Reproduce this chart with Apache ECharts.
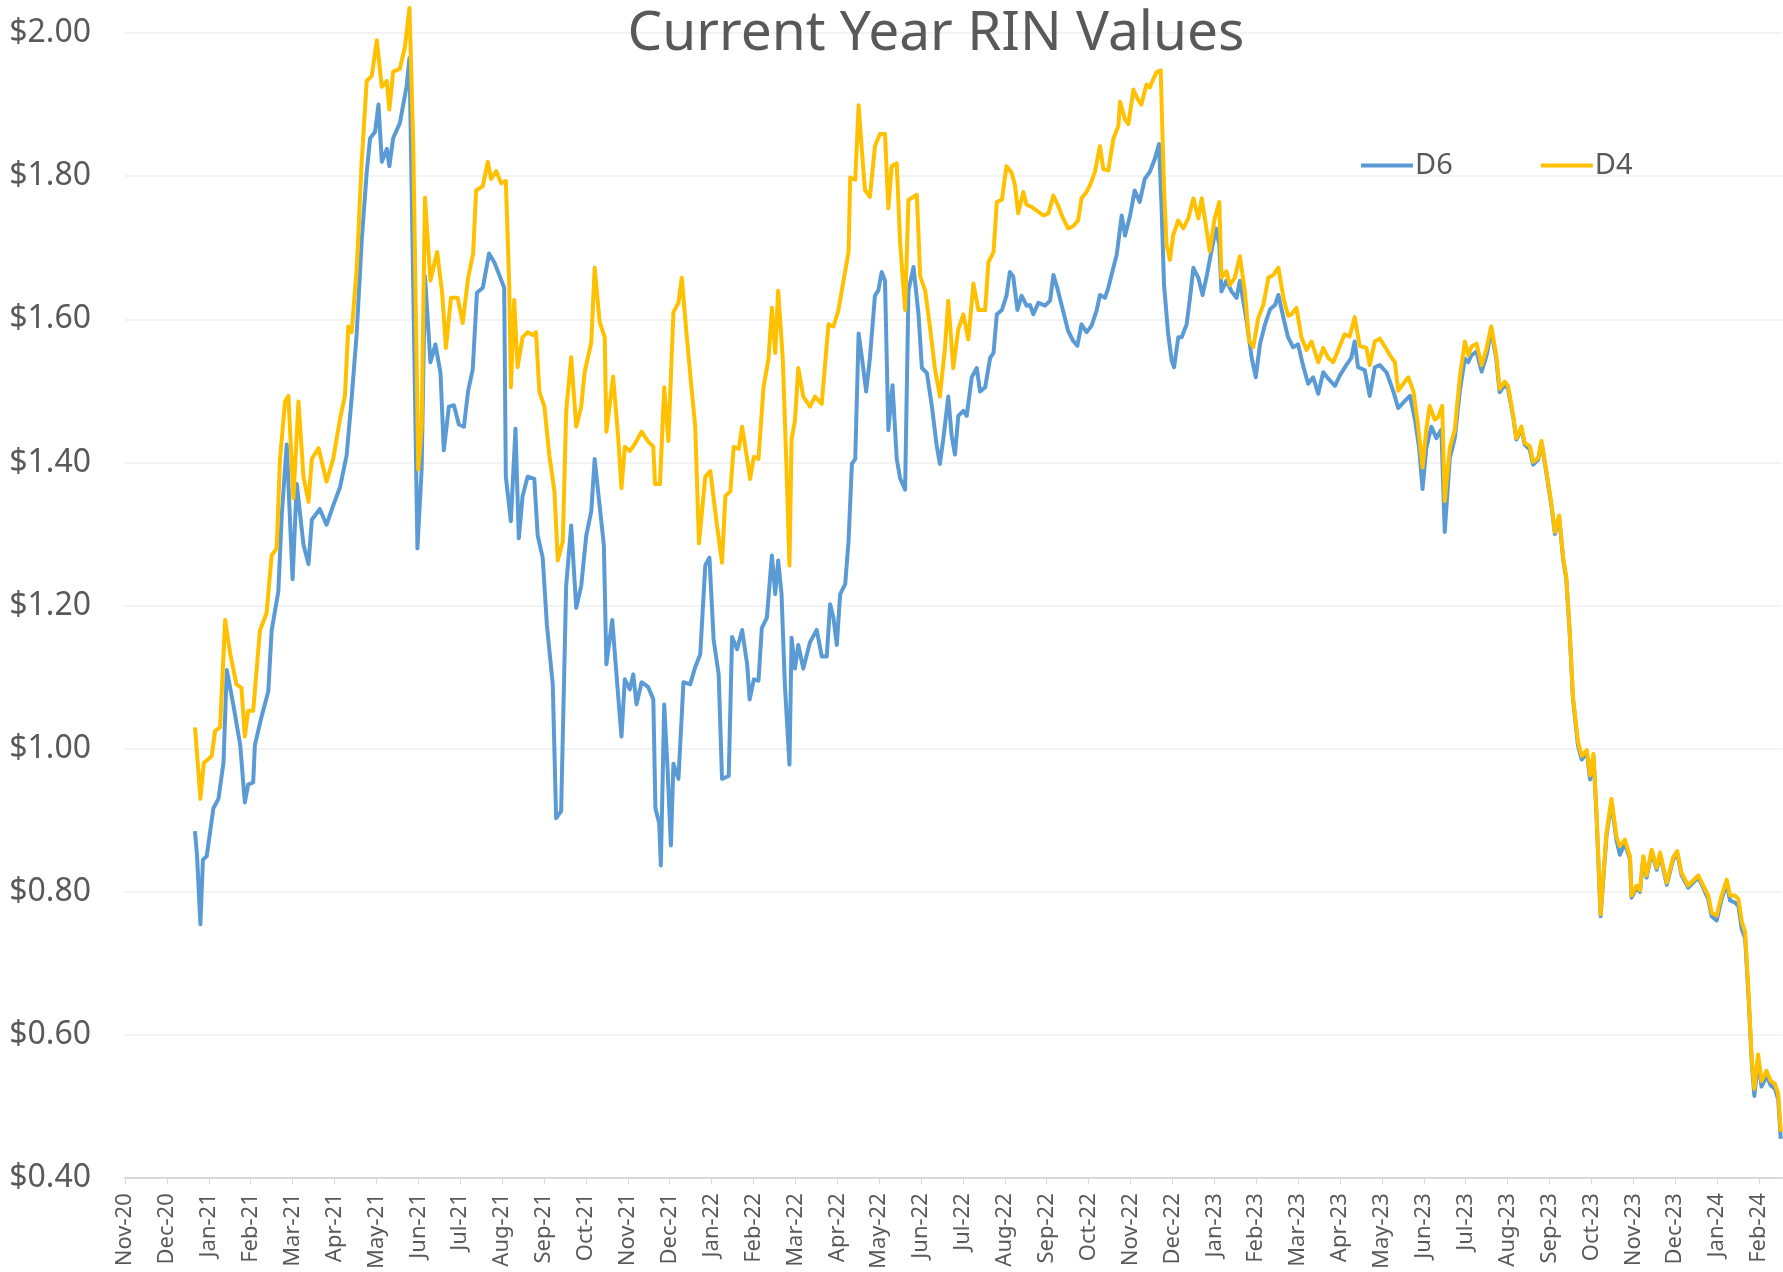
<!DOCTYPE html>
<html>
<head>
<meta charset="utf-8">
<title>Current Year RIN Values</title>
<script src="https://cdn.jsdelivr.net/npm/echarts@6/dist/echarts.min.js"></script>
<style>
  html, body { margin: 0; padding: 0; background: #ffffff; }
  #chart { width: 1783px; height: 1272px; }
</style>
</head>
<body>
<div id="chart"></div>
<script>
// one tick label per month, first one is Nov-20
var monthLabels = [
  'Nov-20', 'Dec-20',
  'Jan-21', 'Feb-21', 'Mar-21', 'Apr-21', 'May-21', 'Jun-21', 'Jul-21', 'Aug-21', 'Sep-21', 'Oct-21', 'Nov-21', 'Dec-21',
  'Jan-22', 'Feb-22', 'Mar-22', 'Apr-22', 'May-22', 'Jun-22', 'Jul-22', 'Aug-22', 'Sep-22', 'Oct-22', 'Nov-22', 'Dec-22',
  'Jan-23', 'Feb-23', 'Mar-23', 'Apr-23', 'May-23', 'Jun-23', 'Jul-23', 'Aug-23', 'Sep-23', 'Oct-23', 'Nov-23', 'Dec-23',
  'Jan-24', 'Feb-24'
];

// time is in months counted from 1 Nov 2020
var d6Time = [
  1.67, 1.72, 1.80, 1.86, 1.95, 2.11, 2.23, 2.35, 2.43, 2.59, 2.75, 2.86, 2.94, 3.06, 3.10, 3.26, 3.42, 3.50, 3.66, 3.74,
  3.86, 4.00, 4.10, 4.26, 4.38, 4.46, 4.65, 4.81, 4.97, 5.13, 5.29, 5.41, 5.53, 5.65, 5.77, 5.85, 5.97, 6.05, 6.13, 6.25,
  6.31, 6.40, 6.56, 6.72, 6.79, 6.88, 6.98, 7.08, 7.16, 7.29, 7.41, 7.53, 7.61, 7.73, 7.85, 7.97, 8.09, 8.19, 8.30, 8.40,
  8.54, 8.69, 8.82, 8.94, 9.05, 9.09, 9.21, 9.32, 9.40, 9.49, 9.61, 9.77, 9.85, 9.97, 10.07, 10.21, 10.29, 10.41, 10.53, 10.65,
  10.77, 10.89, 11.01, 11.13, 11.21, 11.33, 11.43, 11.49, 11.63, 11.73, 11.85, 11.93, 12.05, 12.13, 12.21, 12.33, 12.49, 12.61, 12.66, 12.75,
  12.79, 12.87, 12.95, 13.03, 13.09, 13.21, 13.33, 13.49, 13.61, 13.73, 13.85, 13.95, 14.05, 14.17, 14.25, 14.41, 14.49, 14.61, 14.73, 14.85,
  14.91, 15.01, 15.12, 15.20, 15.32, 15.44, 15.52, 15.59, 15.67, 15.75, 15.86, 15.91, 15.99, 16.07, 16.19, 16.35, 16.51, 16.63, 16.75, 16.83,
  16.91, 16.99, 17.07, 17.19, 17.27, 17.35, 17.43, 17.51, 17.59, 17.69, 17.78, 17.90, 17.98, 18.06, 18.14, 18.22, 18.32, 18.42, 18.50, 18.62,
  18.70, 18.82, 18.94, 19.02, 19.14, 19.26, 19.37, 19.45, 19.53, 19.65, 19.73, 19.81, 19.89, 20.01, 20.09, 20.21, 20.33, 20.41, 20.53, 20.65,
  20.73, 20.81, 20.93, 21.04, 21.12, 21.20, 21.30, 21.40, 21.52, 21.60, 21.68, 21.80, 21.96, 22.08, 22.16, 22.27, 22.39, 22.51, 22.63, 22.73,
  22.83, 22.95, 23.07, 23.19, 23.27, 23.39, 23.47, 23.59, 23.67, 23.79, 23.87, 23.99, 24.10, 24.22, 24.34, 24.46, 24.58, 24.68, 24.74, 24.80,
  24.90, 24.98, 25.04, 25.14, 25.22, 25.34, 25.42, 25.50, 25.62, 25.72, 25.81, 25.93, 26.04, 26.12, 26.17, 26.29, 26.41, 26.53, 26.61, 26.77,
  26.89, 26.99, 27.09, 27.21, 27.33, 27.45, 27.53, 27.65, 27.76, 27.88, 28.00, 28.12, 28.24, 28.36, 28.48, 28.60, 28.72, 28.88, 29.00, 29.15,
  29.27, 29.35, 29.43, 29.59, 29.71, 29.83, 29.95, 30.11, 30.27, 30.39, 30.55, 30.67, 30.79, 30.89, 30.97, 31.06, 31.18, 31.30, 31.42, 31.50,
  31.62, 31.74, 31.86, 31.98, 32.06, 32.14, 32.26, 32.38, 32.50, 32.61, 32.73, 32.81, 32.93, 33.01, 33.13, 33.21, 33.33, 33.41, 33.53, 33.61,
  33.73, 33.81, 33.93, 34.05, 34.13, 34.23, 34.33, 34.40, 34.48, 34.56, 34.68, 34.77, 34.89, 34.97, 35.05, 35.12, 35.22, 35.36, 35.48, 35.60,
  35.68, 35.80, 35.92, 35.96, 36.08, 36.16, 36.24, 36.32, 36.44, 36.56, 36.64, 36.80, 36.95, 37.05, 37.15, 37.31, 37.43, 37.55, 37.67, 37.79,
  37.87, 37.99, 38.11, 38.23, 38.31, 38.43, 38.51, 38.59, 38.67, 38.75, 38.83, 38.89, 38.98, 39.06, 39.18, 39.28, 39.38, 39.46, 39.52
];
var d6Value = [
  0.885, 0.85, 0.755, 0.845, 0.85, 0.917, 0.93, 0.98, 1.11, 1.06, 1.005, 0.925, 0.95, 0.953, 1.005, 1.045, 1.08, 1.165, 1.22, 1.325,
  1.425, 1.237, 1.37, 1.285, 1.258, 1.32, 1.335, 1.313, 1.34, 1.365, 1.41, 1.49, 1.58, 1.71, 1.806, 1.853, 1.862, 1.90, 1.82, 1.838,
  1.814, 1.853, 1.874, 1.925, 1.965, 1.645, 1.28, 1.39, 1.66, 1.54, 1.565, 1.525, 1.417, 1.478, 1.48, 1.453, 1.45, 1.50, 1.53, 1.637,
  1.644, 1.692, 1.679, 1.661, 1.644, 1.38, 1.318, 1.447, 1.294, 1.353, 1.38, 1.377, 1.298, 1.267, 1.173, 1.09, 0.903, 0.913, 1.228, 1.312,
  1.197, 1.228, 1.298, 1.332, 1.405, 1.339, 1.284, 1.118, 1.18, 1.104, 1.017, 1.097, 1.083, 1.104, 1.062, 1.093, 1.086, 1.069, 0.917, 0.896,
  0.837, 1.062, 0.972, 0.865, 0.979, 0.958, 1.093, 1.09, 1.114, 1.132, 1.256, 1.267, 1.152, 1.104, 0.958, 0.962, 1.156, 1.139, 1.166, 1.118,
  1.069, 1.097, 1.095, 1.169, 1.183, 1.27, 1.216, 1.263, 1.216, 1.089, 0.978, 1.155, 1.112, 1.145, 1.112, 1.149, 1.166, 1.129, 1.129, 1.202,
  1.183, 1.145, 1.216, 1.23, 1.29, 1.398, 1.405, 1.58, 1.546, 1.499, 1.546, 1.633, 1.64, 1.666, 1.654, 1.445, 1.508, 1.405, 1.378, 1.362,
  1.64, 1.673, 1.607, 1.532, 1.525, 1.478, 1.425, 1.398, 1.432, 1.492, 1.438, 1.411, 1.465, 1.472, 1.465, 1.519, 1.532, 1.499, 1.505, 1.546,
  1.553, 1.607, 1.613, 1.633, 1.666, 1.66, 1.613, 1.633, 1.619, 1.62, 1.607, 1.623, 1.619, 1.626, 1.662, 1.64, 1.612, 1.584, 1.57, 1.563,
  1.593, 1.582, 1.591, 1.612, 1.634, 1.63, 1.644, 1.672, 1.69, 1.745, 1.717, 1.745, 1.78, 1.764, 1.796, 1.806, 1.824, 1.845, 1.759, 1.648,
  1.579, 1.543, 1.533, 1.575, 1.575, 1.593, 1.63, 1.672, 1.658, 1.634, 1.658, 1.695, 1.727, 1.704, 1.639, 1.654, 1.639, 1.63, 1.654, 1.598,
  1.547, 1.519, 1.565, 1.593, 1.614, 1.62, 1.634, 1.602, 1.575, 1.561, 1.565, 1.535, 1.51, 1.519, 1.496, 1.526, 1.517, 1.507, 1.522, 1.536,
  1.546, 1.569, 1.533, 1.529, 1.493, 1.533, 1.536, 1.526, 1.50, 1.476, 1.486, 1.493, 1.46, 1.42, 1.363, 1.42, 1.45, 1.434, 1.446, 1.303,
  1.406, 1.434, 1.50, 1.545, 1.54, 1.55, 1.555, 1.527, 1.55, 1.585, 1.545, 1.498, 1.508, 1.503, 1.465, 1.432, 1.447, 1.425, 1.418, 1.397,
  1.404, 1.428, 1.384, 1.338, 1.30, 1.324, 1.263, 1.238, 1.165, 1.07, 1.005, 0.985, 0.995, 0.957, 0.99, 0.91, 0.766, 0.878, 0.925, 0.872,
  0.852, 0.868, 0.846, 0.792, 0.806, 0.80, 0.847, 0.82, 0.856, 0.831, 0.852, 0.81, 0.845, 0.854, 0.824, 0.806, 0.813, 0.82, 0.806, 0.79,
  0.766, 0.76, 0.79, 0.812, 0.788, 0.785, 0.78, 0.748, 0.735, 0.655, 0.56, 0.515, 0.565, 0.528, 0.543, 0.53, 0.525, 0.51, 0.455
];

var d4Time = [
  1.67, 1.75, 1.80, 1.88, 2.07, 2.15, 2.27, 2.39, 2.51, 2.66, 2.78, 2.86, 2.94, 3.06, 3.22, 3.38, 3.50, 3.62, 3.70, 3.82,
  3.90, 4.02, 4.14, 4.26, 4.38, 4.46, 4.62, 4.81, 4.97, 5.13, 5.25, 5.33, 5.41, 5.53, 5.65, 5.77, 5.89, 6.01, 6.13, 6.25,
  6.31, 6.40, 6.56, 6.68, 6.79, 6.88, 7.00, 7.08, 7.16, 7.29, 7.45, 7.57, 7.66, 7.78, 7.94, 8.06, 8.19, 8.31, 8.38, 8.54,
  8.66, 8.74, 8.86, 8.98, 9.09, 9.17, 9.21, 9.29, 9.37, 9.49, 9.61, 9.73, 9.81, 9.89, 10.01, 10.13, 10.25, 10.33, 10.45, 10.53,
  10.65, 10.77, 10.89, 10.97, 11.13, 11.21, 11.33, 11.45, 11.49, 11.65, 11.77, 11.85, 11.93, 12.05, 12.17, 12.33, 12.49, 12.61, 12.65, 12.77,
  12.87, 12.97, 13.09, 13.21, 13.29, 13.41, 13.53, 13.61, 13.70, 13.85, 13.97, 14.13, 14.25, 14.33, 14.45, 14.53, 14.65, 14.73, 14.85, 14.92,
  15.01, 15.12, 15.24, 15.36, 15.44, 15.52, 15.59, 15.70, 15.79, 15.86, 15.91, 15.99, 16.07, 16.19, 16.35, 16.47, 16.63, 16.79, 16.91, 17.03,
  17.15, 17.27, 17.31, 17.43, 17.51, 17.59, 17.66, 17.78, 17.90, 18.02, 18.14, 18.22, 18.30, 18.42, 18.50, 18.62, 18.70, 18.82, 18.90, 18.98,
  19.10, 19.22, 19.33, 19.45, 19.57, 19.65, 19.77, 19.89, 20.01, 20.13, 20.25, 20.37, 20.53, 20.61, 20.73, 20.81, 20.93, 21.04, 21.16, 21.24,
  21.32, 21.44, 21.52, 21.64, 21.76, 21.92, 22.04, 22.16, 22.27, 22.39, 22.51, 22.63, 22.75, 22.83, 22.95, 23.03, 23.15, 23.27, 23.35, 23.47,
  23.59, 23.71, 23.75, 23.87, 23.95, 24.07, 24.18, 24.26, 24.38, 24.46, 24.54, 24.62, 24.72, 24.80, 24.86, 24.94, 25.02, 25.14, 25.26, 25.38,
  25.50, 25.62, 25.70, 25.80, 25.89, 26.01, 26.12, 26.17, 26.29, 26.37, 26.49, 26.61, 26.73, 26.83, 26.93, 27.05, 27.17, 27.29, 27.41, 27.53,
  27.65, 27.76, 27.84, 27.96, 28.08, 28.20, 28.32, 28.48, 28.60, 28.72, 28.84, 28.95, 29.11, 29.23, 29.35, 29.47, 29.63, 29.71, 29.83, 29.95,
  30.07, 30.19, 30.31, 30.39, 30.51, 30.63, 30.75, 30.86, 30.97, 31.06, 31.14, 31.26, 31.34, 31.44, 31.50, 31.62, 31.74, 31.86, 31.98, 32.06,
  32.14, 32.26, 32.38, 32.50, 32.61, 32.73, 32.81, 32.93, 33.01, 33.13, 33.21, 33.33, 33.41, 33.53, 33.61, 33.73, 33.81, 33.93, 34.05, 34.13,
  34.23, 34.33, 34.40, 34.48, 34.56, 34.68, 34.77, 34.89, 34.97, 35.05, 35.12, 35.22, 35.36, 35.48, 35.60, 35.68, 35.80, 35.92, 35.96, 36.08,
  36.16, 36.24, 36.32, 36.44, 36.56, 36.64, 36.80, 36.95, 37.05, 37.15, 37.31, 37.43, 37.55, 37.67, 37.79, 37.87, 37.99, 38.11, 38.23, 38.31,
  38.43, 38.51, 38.59, 38.67, 38.75, 38.83, 38.89, 38.98, 39.06, 39.18, 39.28, 39.38, 39.46, 39.52
];
var d4Value = [
  1.03, 0.97, 0.93, 0.98, 0.99, 1.025, 1.03, 1.18, 1.133, 1.09, 1.085, 1.017, 1.053, 1.053, 1.165, 1.19, 1.27, 1.28, 1.405, 1.485,
  1.493, 1.35, 1.485, 1.38, 1.345, 1.405, 1.42, 1.373, 1.405, 1.46, 1.493, 1.59, 1.582, 1.67, 1.82, 1.933, 1.94, 1.99, 1.925, 1.933,
  1.893, 1.946, 1.95, 1.98, 2.035, 1.845, 1.39, 1.45, 1.77, 1.654, 1.694, 1.637, 1.56, 1.63, 1.63, 1.595, 1.658, 1.692, 1.78, 1.786,
  1.82, 1.796, 1.807, 1.79, 1.793, 1.65, 1.505, 1.627, 1.533, 1.575, 1.582, 1.578, 1.582, 1.499, 1.478, 1.409, 1.36, 1.263, 1.29, 1.471,
  1.547, 1.45, 1.478, 1.526, 1.568, 1.672, 1.596, 1.575, 1.443, 1.52, 1.436, 1.364, 1.422, 1.416, 1.426, 1.443, 1.429, 1.422, 1.37, 1.37,
  1.505, 1.43, 1.61, 1.623, 1.658, 1.575, 1.499, 1.45, 1.287, 1.38, 1.388, 1.312, 1.26, 1.353, 1.36, 1.422, 1.419, 1.45, 1.405, 1.377,
  1.408, 1.405, 1.505, 1.545, 1.616, 1.553, 1.64, 1.545, 1.39, 1.256, 1.432, 1.458, 1.532, 1.492, 1.478, 1.492, 1.482, 1.593, 1.59, 1.613,
  1.654, 1.694, 1.798, 1.795, 1.899, 1.835, 1.781, 1.771, 1.842, 1.859, 1.859, 1.755, 1.814, 1.818, 1.708, 1.613, 1.767, 1.771, 1.774, 1.66,
  1.64, 1.586, 1.532, 1.492, 1.559, 1.626, 1.532, 1.586, 1.607, 1.572, 1.65, 1.613, 1.613, 1.68, 1.694, 1.764, 1.767, 1.814, 1.805, 1.788,
  1.748, 1.778, 1.76, 1.757, 1.752, 1.745, 1.748, 1.773, 1.759, 1.741, 1.727, 1.73, 1.738, 1.769, 1.778, 1.787, 1.806, 1.842, 1.81, 1.808,
  1.852, 1.87, 1.904, 1.879, 1.873, 1.921, 1.907, 1.90, 1.928, 1.924, 1.935, 1.945, 1.948, 1.783, 1.704, 1.683, 1.718, 1.738, 1.727, 1.741,
  1.769, 1.741, 1.769, 1.731, 1.695, 1.741, 1.764, 1.658, 1.667, 1.648, 1.658, 1.688, 1.639, 1.57, 1.561, 1.602, 1.62, 1.658, 1.662, 1.672,
  1.63, 1.605, 1.607, 1.616, 1.575, 1.557, 1.569, 1.54, 1.56, 1.546, 1.54, 1.556, 1.579, 1.576, 1.603, 1.563, 1.56, 1.536, 1.569, 1.573,
  1.562, 1.55, 1.54, 1.50, 1.51, 1.519, 1.50, 1.453, 1.393, 1.446, 1.479, 1.46, 1.463, 1.479, 1.346, 1.42, 1.446, 1.519, 1.569, 1.55,
  1.562, 1.566, 1.536, 1.56, 1.59, 1.55, 1.503, 1.513, 1.507, 1.467, 1.434, 1.45, 1.427, 1.423, 1.401, 1.406, 1.43, 1.386, 1.34, 1.303,
  1.326, 1.265, 1.24, 1.167, 1.073, 1.01, 0.99, 0.998, 0.963, 0.993, 0.914, 0.769, 0.882, 0.93, 0.877, 0.864, 0.873, 0.85, 0.795, 0.809,
  0.802, 0.85, 0.823, 0.859, 0.834, 0.855, 0.813, 0.848, 0.857, 0.827, 0.809, 0.816, 0.823, 0.809, 0.795, 0.771, 0.767, 0.795, 0.817, 0.795,
  0.795, 0.79, 0.758, 0.744, 0.66, 0.564, 0.525, 0.573, 0.536, 0.55, 0.536, 0.532, 0.518, 0.465
];

function pairUp(xs, ys) {
  var out = [];
  for (var i = 0; i < xs.length; i++) {
    out.push([xs[i], ys[i]]);
  }
  return out;
}

var myChart = echarts.init(document.getElementById('chart'));

var textColor = '#595959';
var fontName = '"Noto Sans", "Open Sans", sans-serif';

var option = {
  backgroundColor: '#ffffff',
  animation: false,
  title: {
    text: 'Current Year RIN Values',
    left: 931,
    top: 2,
    textAlign: 'center',
    textStyle: {
      color: textColor,
      fontFamily: fontName,
      fontSize: 55,
      fontWeight: 'normal'
    }
  },
  legend: {
    data: ['D6', 'D4'],
    left: 1356,
    top: 146,
    icon: 'rect',
    itemWidth: 52,
    itemHeight: 4,
    itemGap: 88,
    textStyle: {
      color: textColor,
      fontFamily: fontName,
      fontSize: 29,
      padding: [0, 0, 0, -3]
    }
  },
  grid: {
    left: 125,
    right: 1,
    top: 33,
    bottom: 84,
    containLabel: false
  },
  xAxis: {
    type: 'value',
    min: 0,
    max: 39.55,
    interval: 1,
    axisLine: { onZero: false, lineStyle: { color: '#d9d9d9', width: 2 } },
    axisTick: { show: true, length: 6, lineStyle: { color: '#d9d9d9' } },
    splitLine: { show: false },
    axisLabel: {
      rotate: 90,
      margin: 15,
      showMaxLabel: false,
      color: textColor,
      fontFamily: fontName,
      fontSize: 22,
      formatter: function (v) {
        var label = monthLabels[Math.round(v)];
        return label ? label : '';
      }
    }
  },
  yAxis: {
    type: 'value',
    min: 0.4,
    max: 2.0,
    interval: 0.2,
    axisLine: { show: false },
    axisTick: { show: false },
    splitLine: { lineStyle: { color: '#efefef', width: 1.5 } },
    axisLabel: {
      margin: 34,
      color: textColor,
      fontFamily: fontName,
      fontSize: 32,
      formatter: function (v) {
        return '$' + v.toFixed(2);
      }
    }
  },
  series: [
    {
      name: 'D6',
      type: 'line',
      data: pairUp(d6Time, d6Value),
      showSymbol: false,
      clip: false,
      lineStyle: { color: '#5b9bd5', width: 4, join: 'round' },
      itemStyle: { color: '#5b9bd5' }
    },
    {
      name: 'D4',
      type: 'line',
      data: pairUp(d4Time, d4Value),
      showSymbol: false,
      clip: false,
      lineStyle: { color: '#ffc000', width: 4, join: 'round' },
      itemStyle: { color: '#ffc000' }
    }
  ]
};

myChart.setOption(option);
</script>
</body>
</html>
